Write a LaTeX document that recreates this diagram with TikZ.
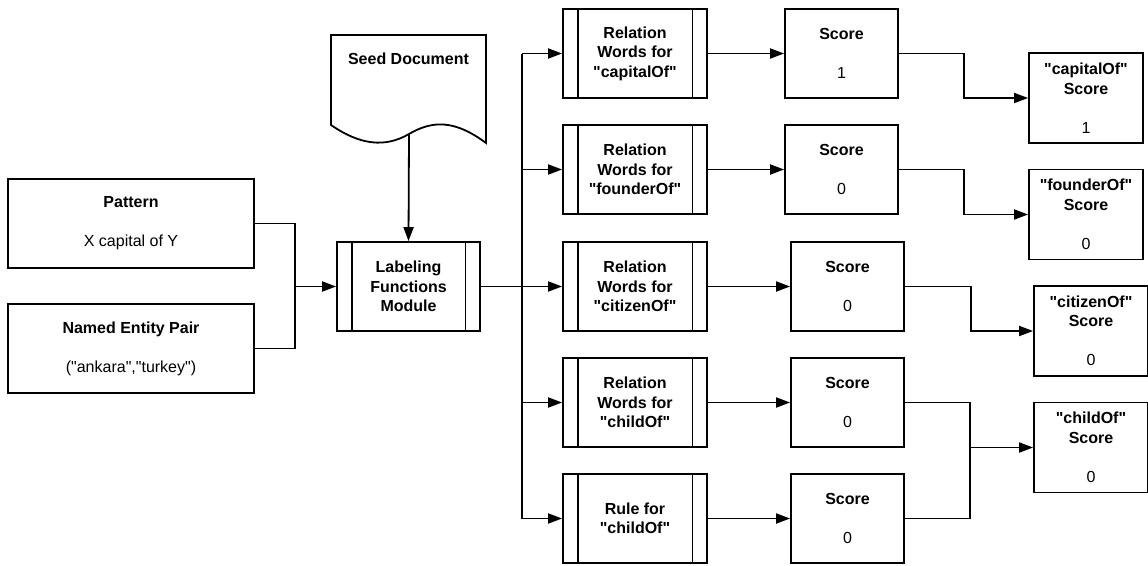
\documentclass[tikz,border=0pt]{standalone}
\usepackage{fontspec}
\setmainfont{Liberation Sans}[Ligatures=TeXOff]
\usetikzlibrary{arrows.meta}
\newcommand{\dq}{\symbol{34}}
\begin{document}
\begin{tikzpicture}[x=1pt,y=-1pt,
  every node/.style={font=\fontsize{16}{19.5}\selectfont, align=center, inner sep=0pt},
  line/.style={line width=1.8pt, line join=miter},
  arr/.style={line, -{Triangle[length=14pt,width=10pt]}},
  box/.style={draw, line width=1.8pt, minimum height=89pt},
  procbox/.style={box, minimum width=144pt,
    path picture={
      \draw[line width=1.8pt]
        ([xshift=15pt]path picture bounding box.north west) -- ([xshift=15pt]path picture bounding box.south west)
        ([xshift=-14.5pt]path picture bounding box.north east) -- ([xshift=-14.5pt]path picture bounding box.south east);
    }},
  scorebox/.style={box, minimum width=113pt},
  finalbox/.style={box, minimum width=114pt, minimum height=90pt},
  inbox/.style={box, minimum width=246pt}
]
\useasboundingbox (0,0) rectangle (1148,565);

% inputs
\node[inbox] (pattern) at (131,223.5) {\textbf{Pattern}\\[19.5pt]X capital of Y};
\node[inbox] (nep) at (131,348.5) {\textbf{Named Entity Pair}\\[19.5pt](\dq ankara\dq,\dq turkey\dq)};

% seed document
\draw[line] (331,35) -- (486,35) -- (486,143)
  .. controls (455,120) and (433,120) .. (409,134)
  .. controls (385,148) and (360,145) .. (331,125) -- cycle;
\node (seed) at (408.5,59) {\textbf{Seed Document}};
\coordinate (seedb) at (409,134);

% labeling functions module
\node[procbox, minimum width=143pt] (lfm) at (408.5,286.5) {\textbf{Labeling}\\\textbf{Functions}\\\textbf{Module}};

% relation word / rule modules
\node[procbox] (r1) at (635,53.5)  {\textbf{Relation}\\\textbf{Words for}\\\textbf{\dq capitalOf\dq}};
\node[procbox] (r2) at (635,169.5) {\textbf{Relation}\\\textbf{Words for}\\\textbf{\dq founderOf\dq}};
\node[procbox] (r3) at (635,286.5) {\textbf{Relation}\\\textbf{Words for}\\\textbf{\dq citizenOf\dq}};
\node[procbox] (r4) at (635,402.5) {\textbf{Relation}\\\textbf{Words for}\\\textbf{\dq childOf\dq}};
\node[procbox] (r5) at (635,518.5) {\textbf{Rule for}\\\textbf{\dq childOf\dq}};

% scores
\node[scorebox] (s1) at (841.5,53.5)  {\textbf{Score}\\[19.5pt]1};
\node[scorebox] (s2) at (841.5,169.5) {\textbf{Score}\\[19.5pt]0};
\node[scorebox] (s3) at (847.5,286.5) {\textbf{Score}\\[19.5pt]0};
\node[scorebox] (s4) at (847.5,402.5) {\textbf{Score}\\[19.5pt]0};
\node[scorebox] (s5) at (847.5,518.5) {\textbf{Score}\\[19.5pt]0};

% aggregated scores
\node[finalbox] (f1) at (1086,98)     {\textbf{\dq capitalOf\dq}\\\textbf{Score}\\[19.5pt]1};
\node[finalbox] (f2) at (1086,214.5)  {\textbf{\dq founderOf\dq}\\\textbf{Score}\\[19.5pt]0};
\node[finalbox] (f3) at (1091,331)    {\textbf{\dq citizenOf\dq}\\\textbf{Score}\\[19.5pt]0};
\node[finalbox] (f4) at (1091,447.5)  {\textbf{\dq childOf\dq}\\\textbf{Score}\\[19.5pt]0};

% connectors: inputs to module
\coordinate (j1) at (295,286.5);
\draw[line] (pattern.east) -| (j1) |- (nep.east);
\draw[arr] (j1) -- (lfm.west);
\draw[arr] (seedb) -- (lfm.north);

% connectors: module to branches
\coordinate (bus) at (522,286.5);
\draw[line] (lfm.east) -- (bus);
\draw[line] (r1.west -| bus) -- (r5.west -| bus);
\foreach \r in {r1,r2,r3,r4,r5}
  \draw[arr] (\r.west -| bus) -- (\r.west);

% branches to scores
\draw[arr] (r1.east) -- (s1.west);
\draw[arr] (r2.east) -- (s2.west);
\draw[arr] (r3.east) -- (s3.west);
\draw[arr] (r4.east) -- (s4.west);
\draw[arr] (r5.east) -- (s5.west);

% scores to aggregated scores
\draw[arr] (s1.east) -- ++(65,0) |- (f1.west);
\draw[arr] (s2.east) -- ++(65,0) |- (f2.west);
\draw[arr] (s3.east) -- ++(66,0) |- (f3.west);
\coordinate (j2) at (970,447.5);
\draw[line] (s4.east) -| (j2) |- (s5.east);
\draw[arr] (j2) -- (f4.west);
\end{tikzpicture}
\end{document}
